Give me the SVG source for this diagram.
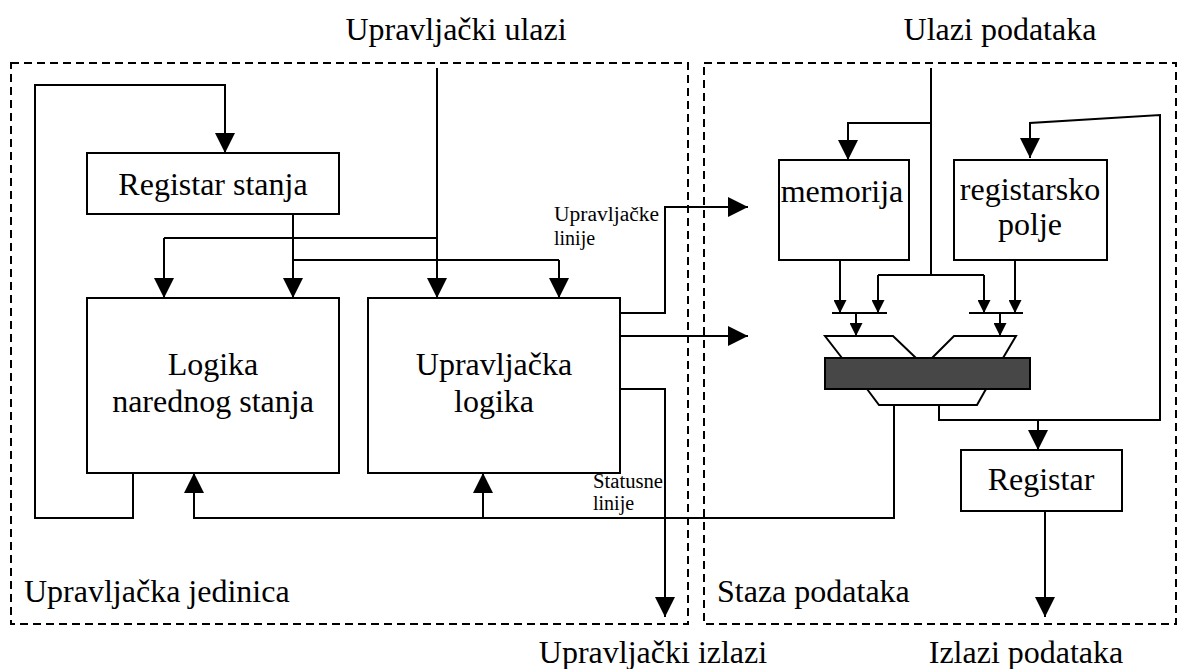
<svg xmlns="http://www.w3.org/2000/svg" width="1184" height="669" viewBox="0 0 1184 669">
<defs>
<marker id="ah" viewBox="0 0 20 20" refX="20" refY="10" markerWidth="20" markerHeight="20" markerUnits="userSpaceOnUse" orient="auto"><path d="M0,0 L20,10 L0,20 z" fill="#000"/></marker>
<marker id="as" viewBox="0 0 13 13" refX="13" refY="6.5" markerWidth="13" markerHeight="13" markerUnits="userSpaceOnUse" orient="auto"><path d="M0,0 L13,6.5 L0,13 z" fill="#000"/></marker>
</defs>
<rect width="1184" height="669" fill="#fff"/>

<g id="control-unit-frame">
<rect fill="none" stroke="#000" stroke-width="2" stroke-dasharray="8 5" x="11" y="63" width="677" height="561"/>
<text font-family="Liberation Serif" font-size="32" x="24" y="602">Upravljačka jedinica</text>
</g>
<g id="datapath-frame">
<rect fill="none" stroke="#000" stroke-width="2" stroke-dasharray="8 5" x="704" y="63" width="472" height="561"/>
<text font-family="Liberation Serif" font-size="32" x="717" y="602">Staza podataka</text>
</g>

<g id="labels">
<text font-family="Liberation Serif" font-size="32" x="456" y="40" text-anchor="middle">Upravljački ulazi</text>
<text font-family="Liberation Serif" font-size="32" x="1000" y="40" text-anchor="middle">Ulazi podataka</text>
<text font-family="Liberation Serif" font-size="32" x="653" y="663" text-anchor="middle">Upravljački izlazi</text>
<text font-family="Liberation Serif" font-size="32" x="1026" y="663" text-anchor="middle">Izlazi podataka</text>
<text font-family="Liberation Serif" font-size="20" x="554" y="221" textLength="105" lengthAdjust="spacingAndGlyphs">Upravljačke</text>
<text font-family="Liberation Serif" font-size="20" x="554" y="245">linije</text>
<text font-family="Liberation Serif" font-size="20" x="593" y="488" textLength="70" lengthAdjust="spacingAndGlyphs">Statusne</text>
<text font-family="Liberation Serif" font-size="20" x="593" y="510">linije</text>
</g>

<g id="connectors" fill="none" stroke="#000" stroke-width="2">
<g marker-end="url(#ah)">
<path d="M437,68 V298"/>
<path d="M164,238 V298"/>
<path d="M293,214 V298"/>
<path d="M559,260 V298"/>
<path d="M133,473 V518 H35 V85 H225 V153"/>
<path d="M894,405 V518 H194 V473"/>
<path d="M483,518 V473"/>
<path d="M620,313 H665 V207 H748"/>
<path d="M620,336 H748"/>
<path d="M620,389 H665 V617"/>
<path d="M931,123 H848 V160"/>
<path d="M939,405 V420 H1160 V115 L1030,123 V158"/>
<path d="M1038,420 V450"/>
<path d="M1045,511 V617"/>
</g>
<g marker-end="url(#as)">
<path d="M878,275 V313"/>
<path d="M984,275 V313"/>
<path d="M840,260 V313"/>
<path d="M1015,260 V313"/>
<path d="M856,313 V336"/>
<path d="M1000,313 V336"/>
</g>
<path d="M437,238 H164"/>
<path d="M293,260 H559"/>
<path d="M931,68 V275"/>
<path d="M878,275 H984"/>
<path d="M832,313 H887"/>
<path d="M969,313 H1023"/>
</g>

<g id="registar-stanja">
<rect fill="#fff" stroke="#000" stroke-width="2" x="87" y="153" width="252" height="61"/>
<text font-family="Liberation Serif" font-size="32" x="213" y="195" text-anchor="middle">Registar stanja</text>
</g>
<g id="logika-narednog-stanja">
<rect fill="#fff" stroke="#000" stroke-width="2" x="87" y="298" width="252" height="175"/>
<text font-family="Liberation Serif" font-size="32" x="213" y="375" text-anchor="middle">Logika</text>
<text font-family="Liberation Serif" font-size="32" x="213" y="412" text-anchor="middle">narednog stanja</text>
</g>
<g id="upravljacka-logika">
<rect fill="#fff" stroke="#000" stroke-width="2" x="368" y="298" width="252" height="175"/>
<text font-family="Liberation Serif" font-size="32" x="494" y="375" text-anchor="middle">Upravljačka</text>
<text font-family="Liberation Serif" font-size="32" x="494" y="412" text-anchor="middle">logika</text>
</g>
<g id="memorija">
<rect fill="#fff" stroke="#000" stroke-width="2" x="779" y="160" width="130" height="100"/>
<text font-family="Liberation Serif" font-size="32" x="842" y="202" text-anchor="middle">memorija</text>
</g>
<g id="registarsko-polje">
<rect fill="#fff" stroke="#000" stroke-width="2" x="954" y="160" width="153" height="100"/>
<text font-family="Liberation Serif" font-size="32" x="1030" y="200" text-anchor="middle">registarsko</text>
<text font-family="Liberation Serif" font-size="32" x="1030" y="235" text-anchor="middle">polje</text>
</g>
<g id="alu" stroke="#000" stroke-width="2">
<path fill="none" d="M842,358 L825,336 H893 L916,358"/>
<path fill="none" d="M932,358 L954,336 H1016 L1003,358"/>
<path fill="#fff" d="M867,389 L879,405 H977 L986,389"/>
<rect x="825" y="358" width="205" height="31" fill="#474747"/>
</g>
<g id="registar">
<rect fill="#fff" stroke="#000" stroke-width="2" x="961" y="450" width="161" height="61"/>
<text font-family="Liberation Serif" font-size="32" x="1041" y="490" text-anchor="middle">Registar</text>
</g>
</svg>
